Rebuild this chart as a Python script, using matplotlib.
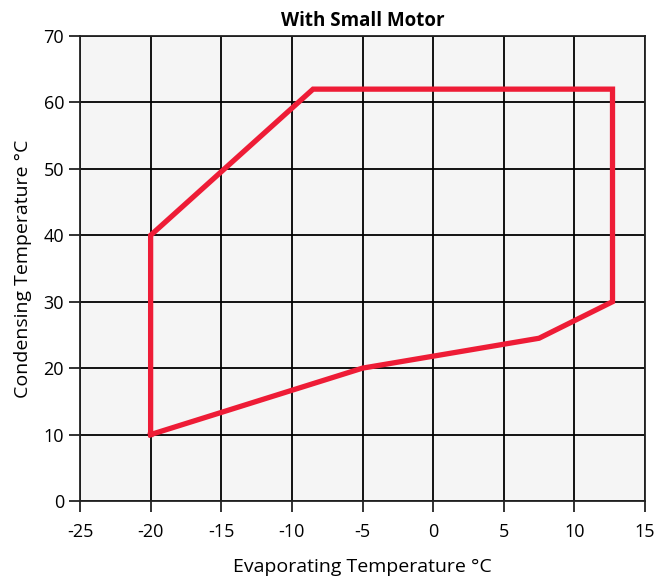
import matplotlib
matplotlib.use('Agg')
import matplotlib.pyplot as plt

plt.rcParams['font.family'] = ['Open Sans', 'DejaVu Sans']
plt.rcParams['axes.unicode_minus'] = False

# envelope outline (evaporating, condensing) in deg C
evap = [-20, -20, -8.5, 12.7, 12.7, 7.5, -5, -20]
cond = [10, 40, 62, 62, 30, 24.5, 20, 10]
xticks = [-25, -20, -15, -10, -5, 0, 5, 10, 15]
yticks = [0, 10, 20, 30, 40, 50, 60, 70]

fig = plt.figure(figsize=(6.57, 5.8), dpi=100)
ax = fig.add_axes([80/657, 79/580, 565/657, 465/580])
ax.set_facecolor('#f5f5f5')
ax.set_xlim(-25, 15); ax.set_ylim(0, 70)
ax.set_xticks(xticks); ax.set_yticks(yticks)
ax.grid(True, color='black', lw=1.3)
ax.set_axisbelow(True)
for s in ax.spines.values():
    s.set_color('#222222'); s.set_linewidth(1.3)
ax.tick_params(length=8, width=1.3, labelsize=13, color='#222222')
ax.tick_params(axis='x', pad=8)

ax.plot(evap, cond, color='#ee1c36', lw=3.8, solid_joinstyle='miter', zorder=3)

ax.set_title('With Small Motor', fontsize=13.5, fontweight='bold', pad=7)
ax.set_xlabel('Evaporating Temperature °C', fontsize=14, labelpad=12)
ax.set_ylabel('Condensing Temperature °C', fontsize=14, labelpad=8)
fig.savefig('out.png', dpi=100)
